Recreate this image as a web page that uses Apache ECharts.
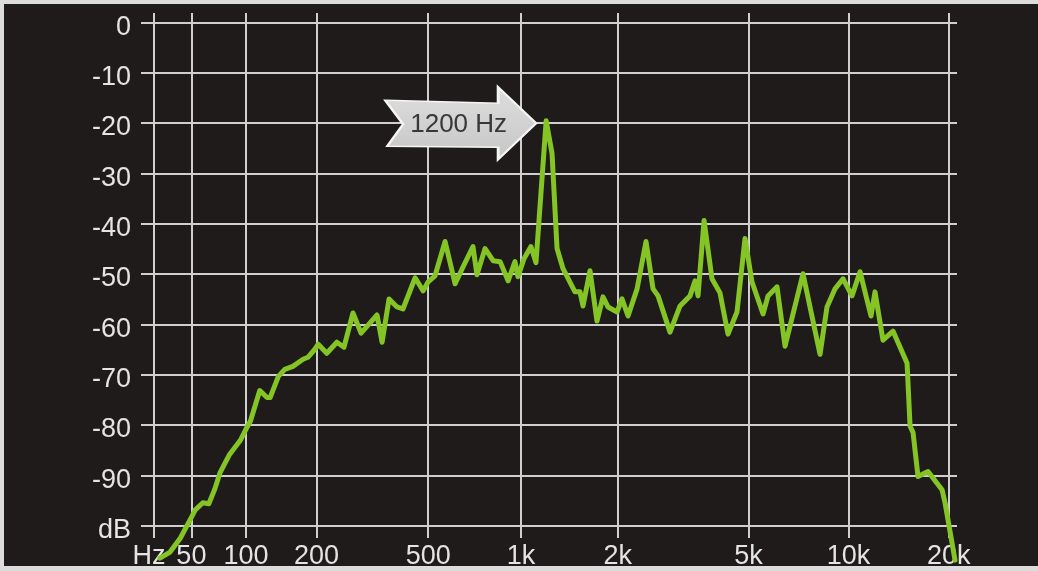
<!DOCTYPE html>
<html>
<head>
<meta charset="utf-8">
<script src="https://cdn.jsdelivr.net/npm/echarts@6/dist/echarts.min.js"></script>
<style>
html,body{margin:0;padding:0;background:#dcdcdc;}
#wrap{position:relative;width:1038px;height:571px;overflow:hidden;}
#bg{position:absolute;left:4px;top:4px;width:1034px;height:562px;background:#1f1b1a;}
#c{position:absolute;left:0;top:0;width:1038px;height:571px;}
</style>
</head>
<body>
<div id="wrap"><div id="bg"></div><div id="c"></div></div>
<script>
// Spectrum trace: frequency (Hz) and level (dB)
const freqHz = [
  28.6, 35, 42, 49, 53, 59, 64, 69, 74, 83,
  94, 100, 105, 116, 125, 129, 140, 149, 161, 177,
  185, 197, 203, 219, 239, 254, 274, 293, 315, 334,
  348, 368, 392, 411, 452, 481, 500, 527, 569, 614,
  652, 702, 723, 768, 815, 858, 910, 957, 978, 1022,
  1075, 1115, 1200, 1252, 1298, 1355, 1476, 1530, 1563, 1643,
  1727, 1802, 1867, 1991, 2062, 2152, 2294, 2443, 2567, 2659,
  2892, 3102, 3328, 3446, 3519, 3670, 3879, 4102, 4337, 4618,
  4882, 5125, 5535, 5730, 6099, 6448, 7303, 8217, 8624, 9116,
  9635, 10253, 10836, 11690, 12017, 12699, 13607, 14997, 15310, 15624,
  16171, 17328, 19086, 19485, 20872
];
const levelDb = [
  -106.4, -105.2, -102.4, -98.8, -96.8, -95.4, -95.6, -92.8, -89.4, -85.8,
  -83.0, -80.8, -79.2, -73.1, -74.5, -74.5, -70.3, -68.9, -68.3, -66.9,
  -66.5, -64.9, -63.9, -65.7, -63.5, -64.5, -57.7, -61.7, -59.7, -58.1,
  -63.5, -54.9, -56.5, -56.9, -50.7, -53.3, -51.5, -50.3, -43.5, -51.9,
  -48.5, -44.5, -50.1, -44.9, -47.3, -47.5, -51.3, -47.5, -50.5, -46.9,
  -44.5, -47.7, -19.5, -26.0, -44.9, -48.9, -53.5, -53.5, -56.3, -49.3,
  -59.3, -54.5, -56.5, -57.5, -54.9, -58.3, -52.9, -43.5, -52.9, -54.3,
  -61.5, -56.3, -54.3, -51.3, -54.3, -39.3, -50.9, -53.7, -61.9, -57.5,
  -42.9, -51.5, -57.9, -54.3, -52.5, -64.3, -49.9, -65.9, -56.5, -52.9,
  -50.9, -54.3, -49.5, -58.3, -53.5, -63.1, -61.3, -67.7, -80.2, -81.4,
  -90.2, -89.2, -92.8, -95.4, -106.8
];
const tickFreqs = [25, 50, 100, 200, 500, 1000, 2000, 5000, 10000, 20000];
const tickLabels = ['Hz', '50', '100', '200', '500', '1k', '2k', '5k', '10k', '20k'];
const dbTicks = [0, -10, -20, -30, -40, -50, -60, -70, -80, -90, -100];
const dbTickLabels = ['0', '-10', '-20', '-30', '-40', '-50', '-60', '-70', '-80', '-90', 'dB'];
const peakHz = 1200;
const peakDb = -20;
const peakLabel = '1200 Hz';

// frequency scale of the analyser: log10(f + F0)
const F0 = 60;
const warp = f => Math.log10(f + F0);
const xMin = warp(17.8), xMax = warp(21160);
const yMin = -102.4, yMax = 1.9;

const FONT = "'Liberation Sans', Arial, Helvetica, sans-serif";
const TXT = '#e4e4e4';
const GRIDC = '#cfcfcf';

const lineData = freqHz.map((f, i) => [warp(f), levelDb[i]]);
const gridMarks = [];
dbTicks.forEach(v => gridMarks.push([{coord: [xMin, v]}, {coord: [xMax, v]}]));
tickFreqs.forEach(f => gridMarks.push([{coord: [warp(f), yMin]}, {coord: [warp(f), yMax]}]));

const xTickVals = tickFreqs.map(warp);
function nearestIdx(arr, v) {
  let best = 0, bd = Infinity;
  arr.forEach((a, i) => { const d = Math.abs(a - v); if (d < bd) { bd = d; best = i; } });
  return best;
}

const arrowPath = 'path://M0,13 L113,16 L113,0 L151,36 L113,72 L113,60 L2,59 L18,37 Z';

const chart = echarts.init(document.getElementById('c'), null, {renderer: 'canvas'});
chart.setOption({
  backgroundColor: 'transparent',
  animation: false,
  grid: {left: 141, right: 81, top: 13, bottom: 33, containLabel: false},
  xAxis: {
    type: 'value', min: xMin, max: xMax,
    axisLine: {show: false}, axisTick: {show: false}, splitLine: {show: false},
    axisLabel: {
      customValues: xTickVals,
      margin: 5,
      color: TXT, fontSize: 27, fontFamily: FONT,
      formatter: v => {
        const i = nearestIdx(xTickVals, v);
        return i === 0 ? '{hz|' + tickLabels[i] + '}' : tickLabels[i];
      },
      rich: {hz: {padding: [0, 10, 0, 0], color: TXT, fontSize: 27, fontFamily: FONT}}
    }
  },
  yAxis: {
    type: 'value', min: yMin, max: yMax,
    axisLine: {show: false}, axisTick: {show: false}, splitLine: {show: false},
    axisLabel: {
      customValues: dbTicks,
      margin: 10,
      color: TXT, fontSize: 27, fontFamily: FONT,
      formatter: v => '{t|' + dbTickLabels[nearestIdx(dbTicks, v)] + '}',
      rich: {t: {padding: [9, 0, 0, 0], color: TXT, fontSize: 27, fontFamily: FONT}}
    }
  },
  series: [
    {
      type: 'line', data: [], silent: true, z: 1,
      markLine: {
        silent: true, z: 1, animation: false,
        symbol: ['none', 'none'],
        label: {show: false},
        emphasis: {disabled: true},
        lineStyle: {color: GRIDC, width: 2, type: 'solid', opacity: 1},
        data: gridMarks
      }
    },
    {
      type: 'line', data: lineData, z: 3, clip: false,
      showSymbol: false, symbol: 'none', silent: true,
      lineStyle: {color: '#84c424', width: 5, join: 'round', cap: 'round'},
      markPoint: {
        z: 6, silent: true, animation: false,
        data: [{
          coord: [warp(peakHz), peakDb],
          symbol: arrowPath,
          symbolSize: [151, 72],
          symbolKeepAspect: false,
          symbolOffset: [-85.5, 0],
          itemStyle: {
            color: {type: 'linear', x: 0, y: 0, x2: 0, y2: 1,
              colorStops: [{offset: 0, color: '#dedede'}, {offset: 1, color: '#c6c6c6'}]},
            borderColor: '#f5f5f5', borderWidth: 2
          },
          label: {
            show: true, position: 'inside', offset: [-2, 2],
            formatter: peakLabel,
            color: '#383838', fontSize: 26, fontFamily: FONT
          }
        }]
      }
    }
  ]
});
</script>
</body>
</html>
